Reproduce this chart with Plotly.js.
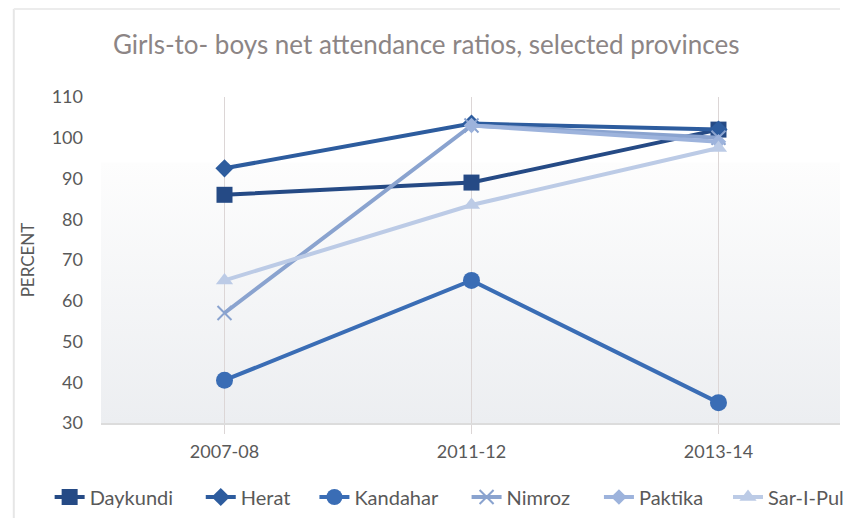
<!DOCTYPE html>
<html>
<head>
<meta charset="utf-8">
<script src="https://cdn.plot.ly/plotly-3.0.1.min.js"></script>
<style>
  body { margin: 0; background: #fff; }
  #chart { width: 849px; height: 518px; }
</style>
</head>
<body>
<div id="chart"></div>
<script>
var years = ['2007-08', '2011-12', '2013-14'];

var daykundi = [86, 89, 102];
var herat = [92.5, 103.5, 102];
var kandahar = [40.5, 65, 35];
var nimroz = [57, 103, 100];
var paktika = [null, 103, 99];
var sarIPul = [65, 83.5, 97.5];

// one small legend per series so the entries sit where the original has them
var legendX = [-0.0695, 0.135, 0.2888, 0.4947, 0.6738, 0.849];

function makeLine(y, name, color, symbol, size, idx) {
    return {
        x: years,
        y: y,
        mode: 'lines+markers',
        name: name,
        legend: 'legend' + (idx + 2),
        connectgaps: false,
        line: { color: color, width: 4 },
        marker: { symbol: symbol, size: size, color: color, line: { width: 0 } }
    };
}

var data = [
    makeLine(daykundi, 'Daykundi', '#254a85', 'square', 16, 0),
    makeLine(herat, 'Herat', '#2d5c9e', 'diamond', 14, 1),
    makeLine(kandahar, 'Kandahar', '#3a6db5', 'circle', 17, 2),
    makeLine(nimroz, 'Nimroz', '#8aa3cf', 'x-thin-open', 14, 3),
    makeLine(paktika, 'Paktika', '#9db3dc', 'diamond', 12, 4),
    makeLine(sarIPul, 'Sar-I-Pul', '#bccbe6', 'triangle-up', 15, 5)
];
data[3].marker.line = { color: '#8aa3cf', width: 2 };

// soft vertical gradient behind the plot, like the original
var grad = 'data:image/svg+xml;utf8,' + encodeURIComponent(
    '<svg xmlns="http://www.w3.org/2000/svg" width="10" height="100" preserveAspectRatio="none">' +
    '<defs><linearGradient id="g" x1="0" y1="0" x2="0" y2="1">' +
    '<stop offset="0" stop-color="#fdfdfd"/>' +
    '<stop offset="1" stop-color="#eceef1"/></linearGradient></defs>' +
    '<rect width="10" height="100" fill="url(#g)"/></svg>');

var layout = {
    width: 849,
    height: 518,
    margin: { l: 101, r: 0, t: 97, b: 95 },
    paper_bgcolor: '#ffffff',
    plot_bgcolor: 'rgba(0,0,0,0)',
    font: { family: 'Lato, "Open Sans", sans-serif', color: '#595959', size: 18 },
    title: {
        text: 'Girls-to- boys net attendance ratios, selected provinces',
        font: { size: 26, color: '#8c8585' },
        x: 0.502, xref: 'container', xanchor: 'center',
        y: 0.913, yanchor: 'middle'
    },
    xaxis: {
        type: 'category',
        range: [-0.5, 2.492],
        showgrid: true,
        gridcolor: '#dcd6d6',
        gridwidth: 1,
        showline: true,
        linecolor: '#dcdcdc',
        linewidth: 2,
        ticks: 'outside',
        ticklen: 9,
        tickcolor: '#dcd6d6',
        ticklabelstandoff: 2,
        tickfont: { size: 18, color: '#595959' },
        zeroline: false
    },
    yaxis: {
        range: [30, 110],
        dtick: 10,
        showgrid: false,
        zeroline: false,
        showline: false,
        ticks: '',
        ticklabelstandoff: 17,
        tickfont: { size: 18, color: '#595959' },
        title: { text: 'PERCENT', font: { size: 17, color: '#595959' }, standoff: 12 }
    },
    images: [{
        source: grad,
        xref: 'paper', yref: 'paper',
        x: 0, y: 0.8, sizex: 1, sizey: 0.8,
        xanchor: 'left', yanchor: 'top',
        sizing: 'stretch',
        layer: 'below'
    }],
    shapes: [
        { type: 'line', xref: 'paper', yref: 'paper', x0: -0.118, x1: -0.118, y0: -0.3, y1: 1.27,
          line: { color: '#e6e6e6', width: 2 } },
        { type: 'line', xref: 'paper', yref: 'paper', x0: -0.118, x1: 1.0, y0: 1.27, y1: 1.27,
          line: { color: '#ececec', width: 2 } }
    ]
};

legendX.forEach(function (lx, i) {
    layout['legend' + (i + 2)] = {
        orientation: 'h',
        x: lx, xanchor: 'left',
        y: -0.227, yanchor: 'middle',
        bgcolor: 'rgba(0,0,0,0)',
        font: { size: 20, color: '#595959' }
    };
});

Plotly.newPlot('chart', data, layout, { displayModeBar: false });
</script>
</body>
</html>
